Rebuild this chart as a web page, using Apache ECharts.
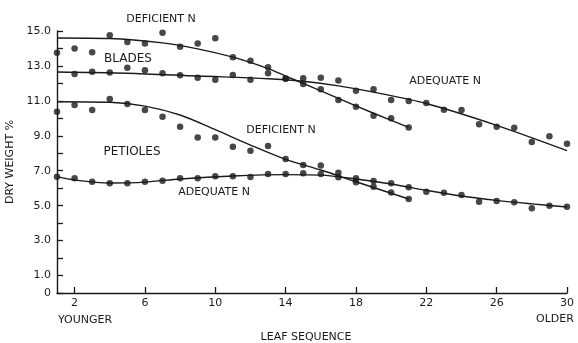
<!DOCTYPE html>
<html><head><meta charset="utf-8">
<script src="https://cdn.jsdelivr.net/npm/echarts@6/dist/echarts.min.js"></script>
<style>html,body{margin:0;padding:0;background:#fff}#c{width:578px;height:343px}</style>
</head><body><div id="c"></div>
<script>
// ---- data ----
const leaves = [1,2,3,4,5,6,7,8,9,10,11,12,13,14,15,16,17,18,19,20,21,22,23,24,25,26,27,28,29,30];
// Blades, deficient N (leaves 1-21)
const bladesDefPts = [13.75,14.0,13.78,14.75,14.37,14.29,14.9,14.1,14.29,14.58,13.49,13.3,12.92,12.27,11.96,11.66,11.05,10.66,10.15,10.0,9.48];
// Blades, adequate N (leaves 1-30; leaf 1 not shown)
const bladesAdqPts = [null,12.54,12.67,12.63,12.9,12.76,12.58,12.46,12.32,12.21,12.48,12.21,12.58,12.28,12.29,12.32,12.17,11.58,11.66,11.05,10.99,10.88,10.49,10.47,9.66,9.52,9.46,8.65,8.97,8.55];
// Petioles, deficient N (leaves 1-21)
const petDefPts = [10.38,10.76,10.47,11.1,10.82,10.47,10.09,9.52,8.9,8.9,8.37,8.15,8.41,7.67,7.33,7.3,6.89,6.34,6.09,5.76,5.38];
// Petioles, adequate N (leaves 1-30)
const petAdqPts = [6.66,6.57,6.37,6.28,6.28,6.37,6.43,6.57,6.57,6.68,6.68,6.64,6.81,6.81,6.85,6.81,6.62,6.57,6.41,6.28,6.05,5.8,5.74,5.61,5.23,5.27,5.19,4.85,5.0,4.94];

// fitted curves
const bladesDefCurveX = [1,4,7,9,11,13,14,15,17,19,21];
const bladesDefCurveY = [14.6,14.57,14.32,13.98,13.5,12.85,12.42,12.0,11.14,10.29,9.48];
const bladesAdqCurveX = [1,5,9,13,15,17,19,22,26,30];
const bladesAdqCurveY = [12.65,12.58,12.42,12.27,12.12,11.86,11.5,10.85,9.6,8.15];
const petDefCurveX = [1,4,6,8,10,12,14,16,18,21];
const petDefCurveY = [10.95,10.92,10.7,10.19,9.35,8.47,7.65,7.04,6.37,5.38];
const petAdqCurveX = [1,2,4,6,8,11,14,16,18,20,22,24,26,28,30];
const petAdqCurveY = [6.66,6.47,6.3,6.35,6.53,6.7,6.78,6.75,6.53,6.24,5.88,5.55,5.3,5.1,4.92];

const xTickValues = [2,6,10,14,18,22,26,30];
const yLabelValues = [0,1,3,5,7,9,11,13,15];
const yLabelTexts = {0:'0',1:'1.0',3:'3.0',5:'5.0',7:'7.0',9:'9.0',11:'11.0',13:'13.0',15:'15.0'};

// ---- build chart ----
const INK = '#1a1a1a';
const FONT = 'DejaVu Sans';
function pts(vals){ return vals.map((v,i)=>[leaves[i], v]).filter(p=>p[1]!==null); }
function curve(xs, ys){ return xs.map((x,i)=>[x, ys[i]]); }
function scatter(vals){ return {type:'scatter', data:pts(vals), symbol:'circle', symbolSize:6.5, itemStyle:{color:INK}, silent:true, z:3}; }
function line(xs, ys){ return {type:'line', data:curve(xs,ys), smooth:0.3, showSymbol:false, lineStyle:{color:INK, width:1.4}, silent:true, z:2}; }

function txt(t, x, y, size){
  return {type:'text', x:x, y:y, style:{text:t, fill:INK, font:(size||11)+'px "'+FONT+'"', align:'center', verticalAlign:'middle', textAlign:'center', textVerticalAlign:'middle'}};
}

const chart = echarts.init(document.getElementById('c'), null, {renderer:'canvas'});
chart.setOption({
  backgroundColor:'#ffffff',
  animation:false,
  grid:{left:57, right:11, top:31, bottom:50, containLabel:false, outerBoundsMode:'none'},
  xAxis:{
    type:'value', min:1, max:30,
    axisLine:{show:true, lineStyle:{color:INK, width:1.4}},
    axisTick:{show:true, inside:true, length:6, customValues:xTickValues, lineStyle:{color:INK, width:1.3}},
    axisLabel:{show:true, customValues:xTickValues, color:INK, fontFamily:FONT, fontSize:11, margin:5},
    splitLine:{show:false}
  },
  yAxis:{
    type:'value', min:0, max:15, interval:1,
    name:'DRY WEIGHT %', nameLocation:'middle', nameGap:40,
    nameTextStyle:{color:INK, fontFamily:FONT, fontSize:11},
    axisLine:{show:true, lineStyle:{color:INK, width:1.4}},
    axisTick:{show:true, inside:true, length:6, lineStyle:{color:INK, width:1.3}},
    axisLabel:{show:true, customValues:yLabelValues, formatter:v=>yLabelTexts[v]||'', color:INK, fontFamily:FONT, fontSize:11, margin:6},
    splitLine:{show:false}
  },
  series:[
    line(bladesDefCurveX, bladesDefCurveY), scatter(bladesDefPts),
    line(bladesAdqCurveX, bladesAdqCurveY), scatter(bladesAdqPts),
    line(petDefCurveX, petDefCurveY), scatter(petDefPts),
    line(petAdqCurveX, petAdqCurveY), scatter(petAdqPts)
  ],
  graphic:[
    txt('DEFICIENT N', 161, 19),
    txt('BLADES', 128, 59, 12),
    txt('ADEQUATE N', 445, 81),
    txt('DEFICIENT N', 281, 130),
    txt('PETIOLES', 132, 152, 12),
    txt('ADEQUATE N', 214, 192),
    txt('YOUNGER', 85, 320),
    txt('OLDER', 555, 319),
    txt('LEAF SEQUENCE', 306, 337)
  ]
});
</script></body></html>
